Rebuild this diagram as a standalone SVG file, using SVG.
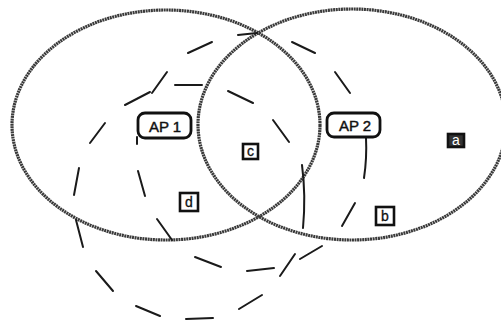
<svg xmlns="http://www.w3.org/2000/svg" width="501" height="321" viewBox="0 0 501 321">
<style>
.cov{fill:none;stroke:#3a3a3a;stroke-width:3.2;stroke-dasharray:2 0.6}
.dash{fill:none;stroke:#1a1a1a;stroke-width:2;stroke-linecap:round}
.ap rect{fill:#fff;stroke:#111;stroke-width:2.8}
.ap text{font-family:"Liberation Sans",Arial,sans-serif;font-size:15px;fill:#111;stroke:#111;stroke-width:0.45;text-anchor:middle}
.reg rect{fill:#fff;stroke:#111;stroke-width:2.6}
.reg text{font-family:"Liberation Sans",Arial,sans-serif;font-size:14px;fill:#111;stroke:#111;stroke-width:0.3;text-anchor:middle}
</style>
<rect width="501" height="321" fill="#fff"/>
<g id="coverage-ap1"><ellipse class="cov" cx="166" cy="125" rx="154" ry="115"/></g>
<g id="coverage-ap2"><ellipse class="cov" cx="352" cy="124.5" rx="154" ry="115.5"/></g>
<g id="dashed-outer">
<path class="dash" d="M74,195 L79,168 M76,220 L83,247 M96,271 L113,291 M136,306 L160,316 M186,319 L213,318 M239,309 L262,295 M280,276 L295,254 M300,259 L322,246 M342,226 L355,203 M364,178 Q367,158 366,138 M335,72 L350,93 M292,42 L315,53 M238,35 L257,33 M188,53 L212,42 M152,93 L167,72 M90,143 L105,123"/>
</g>
<g id="dashed-inner">
<path class="dash" d="M125,105 L150,92 M175,85 L202,85 M228,91 L253,103 M273,120 L289,142 M302,165 Q306,195 303,228 M247,271 L274,268 M195,257 L221,267 M157,219 L172,240 M138,171 L145,196 M137,137 L137,144"/>
</g>
<g id="ap1" class="ap"><rect x="138" y="113" width="53" height="25" rx="7"/><text x="165" y="131.5">AP 1</text></g>
<g id="ap2" class="ap"><rect x="327" y="113" width="53" height="24" rx="7"/><text x="355" y="131">AP 2</text></g>
<g id="region-a" class="reg"><rect x="448" y="134" width="16" height="13" style="fill:#333"/><text x="456" y="145" style="fill:#fff;stroke:none">a</text></g>
<g id="region-b" class="reg"><rect x="376" y="207" width="18" height="18"/><text x="385" y="221">b</text></g>
<g id="region-c" class="reg"><rect x="243" y="144" width="15" height="15"/><text x="250.5" y="156">c</text></g>
<g id="region-d" class="reg"><rect x="180" y="193" width="18" height="18"/><text x="189" y="207">d</text></g>
</svg>
